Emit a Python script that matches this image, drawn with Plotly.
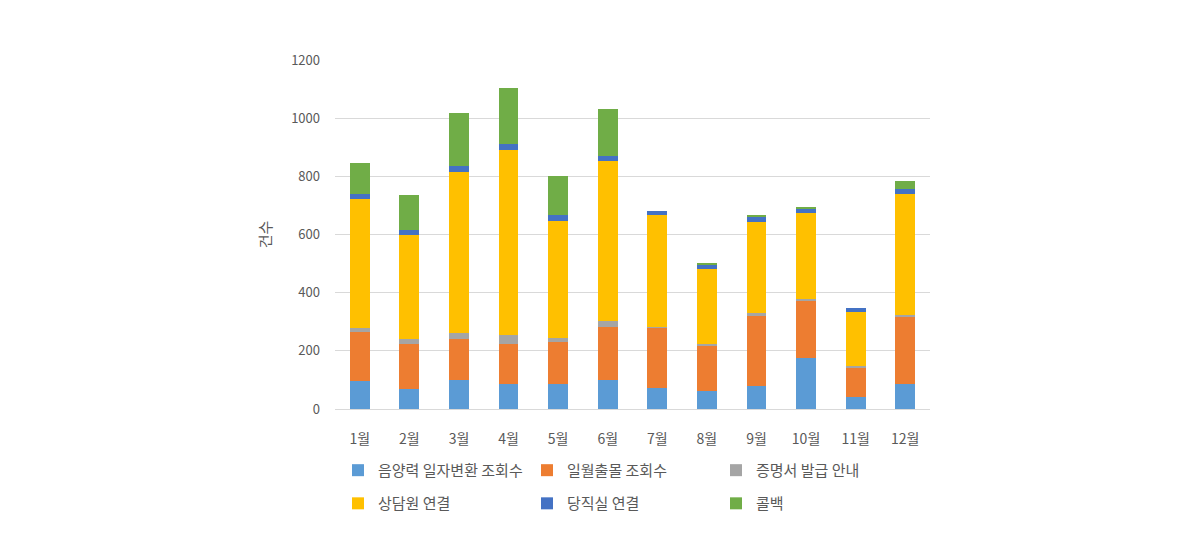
import plotly.graph_objects as go

months = ["1월", "2월", "3월", "4월", "5월", "6월", "7월", "8월", "9월", "10월", "11월", "12월"]
lunar_convert = [98, 70, 101, 85, 85, 101, 71, 61, 78, 175, 42, 85]
sunrise_query = [166, 154, 139, 138, 147, 180, 208, 154, 241, 195, 100, 230]
certificate = [14, 16, 20, 30, 11, 21, 3, 8, 11, 8, 5, 8]
counselor = [443, 359, 554, 638, 404, 551, 384, 258, 312, 295, 188, 415]
duty_room = [17, 15, 21, 20, 20, 16, 14, 16, 21, 16, 11, 18]
callback = [107, 121, 184, 193, 133, 162, 0, 5, 1, 6, 0, 27]

series = [
    ("음양력 일자변환 조회수", lunar_convert, "#5B9BD5", "legend"),
    ("일월출몰 조회수", sunrise_query, "#ED7D31", "legend"),
    ("증명서 발급 안내", certificate, "#A5A5A5", "legend"),
    ("상담원 연결", counselor, "#FFC000", "legend2"),
    ("당직실 연결", duty_room, "#4472C4", "legend2"),
    ("콜백", callback, "#70AD47", "legend2"),
]

fig = go.Figure()
for name, vals, color, lg in series:
    fig.add_trace(go.Bar(x=months, y=vals, name=name, marker_color=color,
                         marker_line_width=0, legend=lg))

font = "Noto Sans CJK KR, sans-serif"
leg_common = dict(orientation="h", xanchor="left", yanchor="middle",
                  entrywidth=144, entrywidthmode="pixels", traceorder="normal",
                  font=dict(size=15, color="#595959"), itemwidth=30,
                  bgcolor="rgba(0,0,0,0)")
fig.update_layout(
    barmode="stack",
    bargap=0.6,
    width=1190, height=537,
    margin=dict(l=327, r=268, t=52, b=136, autoexpand=False),
    paper_bgcolor="white", plot_bgcolor="white",
    font=dict(family=font, size=13, color="#595959"),
    yaxis=dict(range=[0, 1200], dtick=200, showgrid=True, gridcolor="#D9D9D9",
               gridwidth=1, zeroline=False, showline=False,
               ticks="", tickfont=dict(size=13, color="#595959"),
               ticklabelstandoff=14,
               title=dict(text="건수", font=dict(size=15, color="#595959"), standoff=15)),
    xaxis=dict(showline=True, linecolor="#D9D9D9", linewidth=1, ticks="",
               tickfont=dict(size=14, color="#595959"), ticklabelstandoff=17),
    legend=dict(x=0.005, y=-0.176, **leg_common),
    legend2=dict(x=0.005, y=-0.271, **leg_common),
    showlegend=True,
)

fig.write_html("out.html")
